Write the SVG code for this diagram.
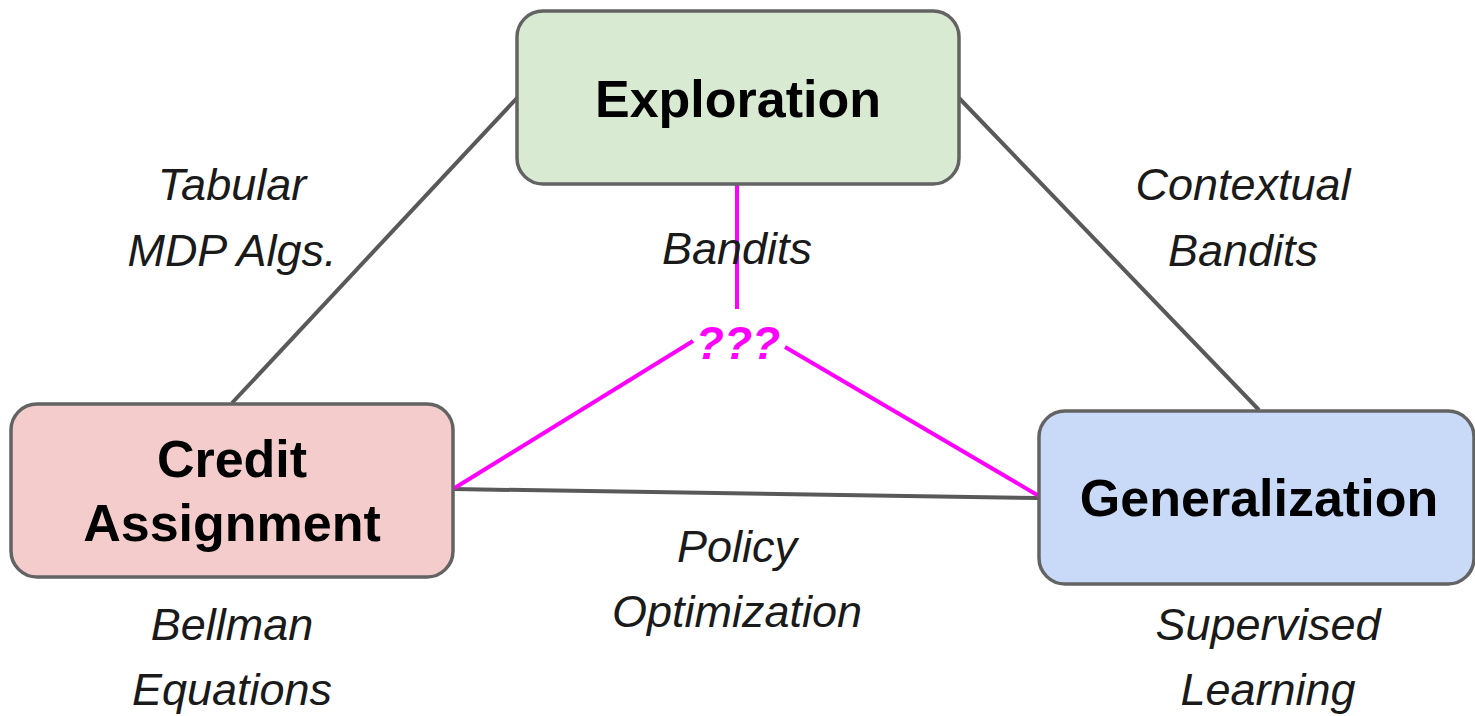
<svg xmlns="http://www.w3.org/2000/svg" width="1475" height="716" viewBox="0 0 1475 716">
<style>
.box{stroke:#636363;stroke-width:3.5}
.t{font-family:"Liberation Sans",Arial,sans-serif;font-weight:bold;font-size:52px;fill:#000;text-anchor:middle}
.l{font-family:"Liberation Sans",Arial,sans-serif;font-style:italic;font-size:45px;fill:#1a1a1a;text-anchor:middle}
.g{stroke:#595959;stroke-width:4;fill:none}
.m{stroke:#ff00ff;stroke-width:4;fill:none}
</style>
<rect width="1475" height="716" fill="#fff"/>
<g id="connectors">
<line class="g" x1="517" y1="98" x2="232" y2="403"/>
<line class="g" x1="959" y1="98" x2="1259" y2="410"/>
<line class="g" x1="453" y1="489" x2="1039" y2="498"/>
<line class="m" x1="737" y1="184" x2="737" y2="309"/>
<line class="m" x1="453" y1="489" x2="693" y2="341"/>
<line class="m" x1="785" y1="347" x2="1039" y2="496"/>
</g>
<g id="labels">
<text class="l" x="232" y="200">Tabular</text>
<text class="l" x="232" y="266">MDP Algs.</text>
<text class="l" x="737" y="264">Bandits</text>
<text class="l" x="1243" y="200">Contextual</text>
<text class="l" x="1243" y="266">Bandits</text>
<text class="l" x="737" y="562">Policy</text>
<text class="l" x="737" y="627">Optimization</text>
<text class="l" x="232" y="640">Bellman</text>
<text class="l" x="232" y="705">Equations</text>
<text class="l" x="1268" y="640">Supervised</text>
<text class="l" x="1268" y="705">Learning</text>
<text x="738" y="359" font-family="Liberation Sans,Arial,sans-serif" font-weight="bold" font-style="italic" font-size="46" fill="#ff00ff" text-anchor="middle">???</text>
</g>
<g id="exploration">
<rect class="box" x="517" y="11" width="442" height="173" rx="26" fill="#d9ead3"/>
<text class="t" x="738" y="117">Exploration</text>
</g>
<g id="credit-assignment">
<rect class="box" x="11" y="404" width="442" height="173" rx="26" fill="#f4cccc"/>
<text class="t" x="232" y="477">Credit</text>
<text class="t" x="232" y="541">Assignment</text>
</g>
<g id="generalization">
<rect class="box" x="1039" y="411" width="435" height="173" rx="26" fill="#c9daf8"/>
<text class="t" x="1259" y="516">Generalization</text>
</g>
</svg>
